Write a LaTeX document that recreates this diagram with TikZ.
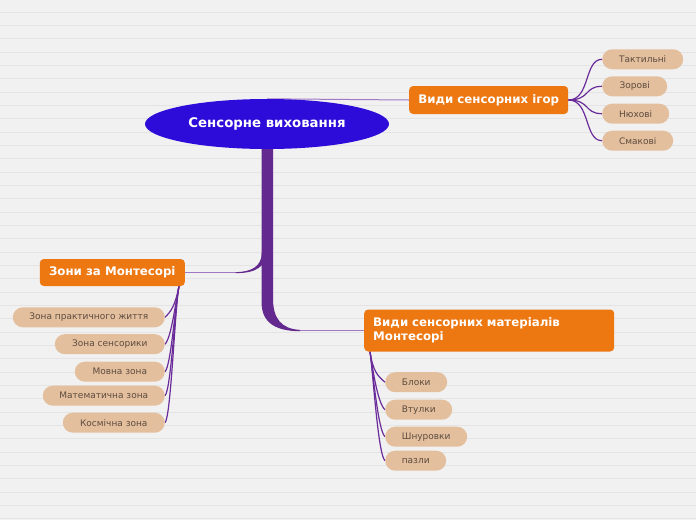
\documentclass[tikz,border=0pt]{standalone}
\usepackage{fontspec}
\setmainfont{DejaVu Sans}
\definecolor{paper}{RGB}{241,241,241}
\definecolor{ruling}{RGB}{228,228,228}
\definecolor{rootblue}{RGB}{45,12,218}
\definecolor{topicorange}{RGB}{237,119,17}
\definecolor{leaftan}{RGB}{228,191,158}
\definecolor{leaftext}{RGB}{92,76,62}
\definecolor{trunk}{RGB}{99,41,143}
\definecolor{twig}{RGB}{106,44,154}
\definecolor{thinpurple}{RGB}{160,120,196}
\usetikzlibrary{shapes.geometric,backgrounds,calc}

\begin{document}
\begin{tikzpicture}[x=1pt,y=-1pt,
  rootnode/.style={ellipse,fill=rootblue,text=white,inner sep=0,
    minimum width=244,minimum height=50,font=\bfseries\fontsize{13.3}{15}\selectfont},
  topic/.style={rectangle,rounded corners=4,fill=topicorange,text=white,inner xsep=9,inner ysep=0,
    font=\bfseries\fontsize{11.8}{14}\selectfont},
  leaf/.style={rectangle,rounded corners=10,fill=leaftan,text=leaftext,inner sep=0,
    minimum height=20,font=\fontsize{9}{11}\selectfont},
  twigline/.style={twig,line width=1.2},
  thinline/.style={thinpurple,line width=1}]
  \useasboundingbox (0,0) rectangle (696,520);
  \begin{scope}[on background layer]
    \fill[paper] (0,0) rectangle (696,520);
    \foreach \i in {0,...,38}
      \draw[ruling,line width=1] (0,{12.3+13.33*\i}) -- (696,{12.3+13.33*\i});
  \end{scope}

  % centre and main topics
  \node[rootnode] (root) at (267,124) {Сенсорне виховання};
  \node[topic,anchor=west,minimum width=159,minimum height=28] (games) at (409,100) {Види сенсорних ігор};
  \node[topic,anchor=east,minimum width=145,minimum height=27] (montessori) at (185,272.5) {Зони за Монтесорі};
  \node[topic,anchor=west,text width=232,align=left,minimum height=42] (materials) at (364,330.5)
    {Види сенсорних матеріалів\\Монтесорі};

  % leaves
  \node[leaf,anchor=west,minimum width=81] (taktylni) at (602,59.3) {Тактильні};
  \node[leaf,anchor=west,minimum width=65] (zorovi) at (602,86.3) {Зорові};
  \node[leaf,anchor=west,minimum width=67] (nyukhovi) at (602,113.7) {Нюхові};
  \node[leaf,anchor=west,minimum width=71] (smakovi) at (602,140.7) {Смакові};

  \node[leaf,anchor=east,minimum width=152] (praktychna) at (165,317.3) {Зона практичного життя};
  \node[leaf,anchor=east,minimum width=110] (sensoryka) at (165,344.2) {Зона сенсорики};
  \node[leaf,anchor=east,minimum width=90] (movna) at (165,371.7) {Мовна зона};
  \node[leaf,anchor=east,minimum width=122] (matematychna) at (165,395.7) {Математична зона};
  \node[leaf,anchor=east,minimum width=102] (kosmichna) at (165,422.7) {Космічна зона};

  \node[leaf,anchor=west,minimum width=62] (bloky) at (385,382.2) {Блоки};
  \node[leaf,anchor=west,minimum width=67] (vtulky) at (385,409.7) {Втулки};
  \node[leaf,anchor=west,minimum width=82] (shnurovky) at (385,436.7) {Шнуровки};
  \node[leaf,anchor=west,minimum width=61] (pazly) at (385,460.7) {пазли};

  % connectors
  \coordinate (tt) at ($(root.south)+(0.3,-9)$);
  \coordinate (tb) at (tt |- materials.west);
  \coordinate (tl) at (tt |- montessori.east);
  \coordinate (tbe) at ($(tb)+(33,0)$);
  \coordinate (tle) at ($(tl)+(-32,0)$);
  \coordinate (ms) at ($(montessori.south east)+(-6,0)$);
  \coordinate (mb) at ($(materials.south west)+(6,0)$);
  \begin{scope}[on background layer]
    \draw[thinline] (root.north) -- (games.west);
    \fill[trunk] ($(tt)+(-5.7,0)$) -- ($(tb)+(-5.7,-28)$)
      .. controls ($(tb)+(-5.7,-8)$) and ($(tb)+(8,0.7)$) .. ($(tbe)+(0,0.7)$)
      -- ($(tbe)+(0,-0.6)$)
      .. controls ($(tb)+(14,-1.5)$) and ($(tb)+(5.7,-12)$) .. ($(tb)+(5.7,-32)$)
      -- ($(tt)+(5.7,0)$) -- cycle;
    \fill[trunk] ($(tl)+(-5.5,-20)$)
      .. controls ($(tl)+(-5.5,-6)$) and ($(tl)+(-16,-0.4)$) .. ($(tle)+(0,-0.4)$)
      -- ($(tle)+(0,0.6)$)
      .. controls ($(tl)+(-12,1)$) and ($(tl)+(-1,-6)$) .. ($(tl)+(-1,-20)$) -- cycle;
    \draw[thinline] (tbe) -- (materials.west);
    \draw[thinline] (tle) -- (montessori.east);
    \foreach \n in {taktylni,zorovi,nyukhovi,smakovi}
      \draw[twigline] (games.east) .. controls +(22,0) and +(-18,0) .. (\n.west);
    \foreach \n in {praktychna,sensoryka,movna,matematychna,kosmichna}
      \draw[twigline] (ms) .. controls +(-4,20) and +(6,-6) .. (\n.east);
    \foreach \n in {bloky,vtulky,shnurovky,pazly}
      \draw[twigline] (mb) .. controls +(3,20) and +(-7,-6) .. (\n.west);
  \end{scope}
\end{tikzpicture}
\end{document}
